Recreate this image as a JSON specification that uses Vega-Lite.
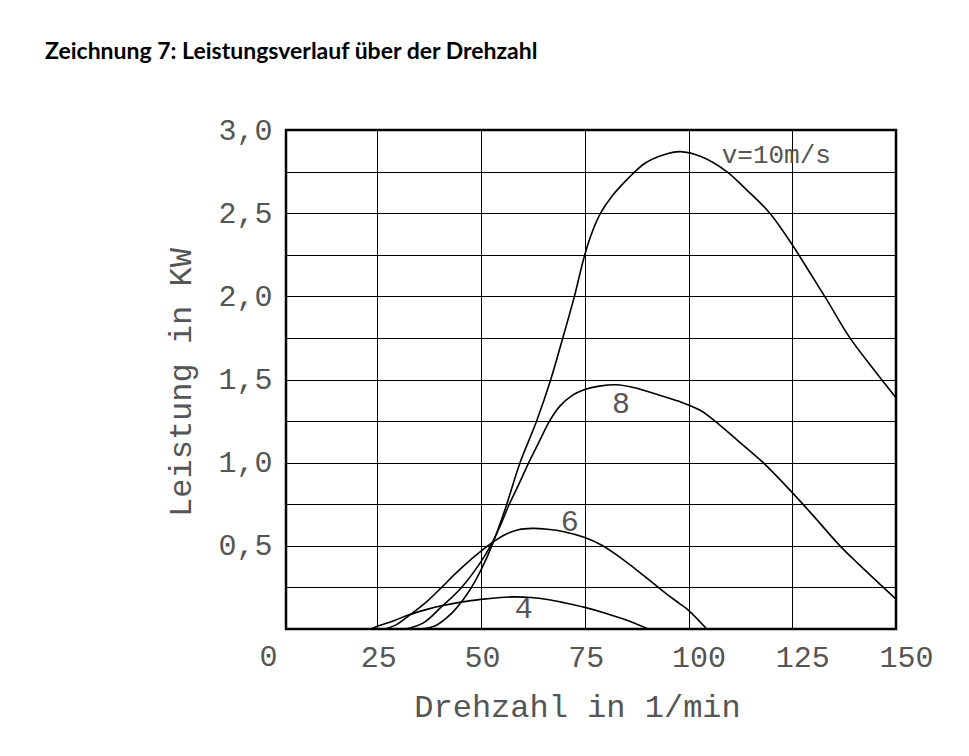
{
  "$schema": "https://vega.github.io/schema/vega-lite/v6.json",
  "width": 610,
  "height": 499,
  "autosize": "none",
  "padding": {"left": 286, "top": 130, "right": 73, "bottom": 127},
  "background": "white",
  "title": {
    "text": "Zeichnung 7: Leistungsverlauf über der Drehzahl",
    "anchor": "start",
    "frame": "group",
    "dx": -241,
    "offset": 33,
    "font": "Lato",
    "fontSize": 23,
    "fontWeight": "bold",
    "color": "black",
    "baseline": "alphabetic"
  },
  "datasets": {
    "curves": [
      {"v": "10", "rpm": 35.3, "kw": 0},
      {"v": "10", "rpm": 39, "kw": 0.02},
      {"v": "10", "rpm": 42.9, "kw": 0.094},
      {"v": "10", "rpm": 45.5, "kw": 0.17},
      {"v": "10", "rpm": 47.7, "kw": 0.25},
      {"v": "10", "rpm": 50, "kw": 0.355},
      {"v": "10", "rpm": 52.6, "kw": 0.5},
      {"v": "10", "rpm": 55.8, "kw": 0.72},
      {"v": "10", "rpm": 59.4, "kw": 1.0},
      {"v": "10", "rpm": 63.4, "kw": 1.25},
      {"v": "10", "rpm": 66.8, "kw": 1.5},
      {"v": "10", "rpm": 69.7, "kw": 1.75},
      {"v": "10", "rpm": 72.5, "kw": 2.0},
      {"v": "10", "rpm": 75, "kw": 2.25},
      {"v": "10", "rpm": 77, "kw": 2.4},
      {"v": "10", "rpm": 78.8, "kw": 2.5},
      {"v": "10", "rpm": 81.5, "kw": 2.6},
      {"v": "10", "rpm": 85.1, "kw": 2.7},
      {"v": "10", "rpm": 89.5, "kw": 2.8},
      {"v": "10", "rpm": 93.9, "kw": 2.85},
      {"v": "10", "rpm": 98, "kw": 2.87},
      {"v": "10", "rpm": 103, "kw": 2.84},
      {"v": "10", "rpm": 109.2, "kw": 2.75},
      {"v": "10", "rpm": 114, "kw": 2.64},
      {"v": "10", "rpm": 119.6, "kw": 2.5},
      {"v": "10", "rpm": 125, "kw": 2.31},
      {"v": "10", "rpm": 129.3, "kw": 2.14},
      {"v": "10", "rpm": 133.3, "kw": 1.98},
      {"v": "10", "rpm": 138.9, "kw": 1.75},
      {"v": "10", "rpm": 143.7, "kw": 1.59},
      {"v": "10", "rpm": 150, "kw": 1.39},
      {"v": "8", "rpm": 31.7, "kw": 0},
      {"v": "8", "rpm": 36, "kw": 0.035},
      {"v": "8", "rpm": 40.5, "kw": 0.134},
      {"v": "8", "rpm": 45.3, "kw": 0.25},
      {"v": "8", "rpm": 50, "kw": 0.405},
      {"v": "8", "rpm": 52.6, "kw": 0.515},
      {"v": "8", "rpm": 54.6, "kw": 0.62},
      {"v": "8", "rpm": 56.8, "kw": 0.75},
      {"v": "8", "rpm": 59.1, "kw": 0.87},
      {"v": "8", "rpm": 61.5, "kw": 1.0},
      {"v": "8", "rpm": 63.9, "kw": 1.12},
      {"v": "8", "rpm": 66.5, "kw": 1.25},
      {"v": "8", "rpm": 69, "kw": 1.34},
      {"v": "8", "rpm": 72, "kw": 1.405},
      {"v": "8", "rpm": 75, "kw": 1.44},
      {"v": "8", "rpm": 78.5, "kw": 1.46},
      {"v": "8", "rpm": 82.6, "kw": 1.468},
      {"v": "8", "rpm": 87, "kw": 1.45},
      {"v": "8", "rpm": 91.5, "kw": 1.417},
      {"v": "8", "rpm": 97.9, "kw": 1.367},
      {"v": "8", "rpm": 102.8, "kw": 1.315},
      {"v": "8", "rpm": 106, "kw": 1.257},
      {"v": "8", "rpm": 112, "kw": 1.13},
      {"v": "8", "rpm": 118, "kw": 1.0},
      {"v": "8", "rpm": 125, "kw": 0.82},
      {"v": "8", "rpm": 130.1, "kw": 0.68},
      {"v": "8", "rpm": 136.5, "kw": 0.5},
      {"v": "8", "rpm": 141, "kw": 0.39},
      {"v": "8", "rpm": 146.1, "kw": 0.27},
      {"v": "8", "rpm": 150, "kw": 0.18},
      {"v": "6", "rpm": 26.9, "kw": 0},
      {"v": "6", "rpm": 29.5, "kw": 0.025},
      {"v": "6", "rpm": 32.5, "kw": 0.078},
      {"v": "6", "rpm": 36.5, "kw": 0.155},
      {"v": "6", "rpm": 40.5, "kw": 0.25},
      {"v": "6", "rpm": 43.5, "kw": 0.325},
      {"v": "6", "rpm": 46.5, "kw": 0.395},
      {"v": "6", "rpm": 50, "kw": 0.468},
      {"v": "6", "rpm": 53, "kw": 0.525},
      {"v": "6", "rpm": 56, "kw": 0.57},
      {"v": "6", "rpm": 59, "kw": 0.597},
      {"v": "6", "rpm": 62.3, "kw": 0.605},
      {"v": "6", "rpm": 66, "kw": 0.6},
      {"v": "6", "rpm": 70, "kw": 0.585},
      {"v": "6", "rpm": 75, "kw": 0.55},
      {"v": "6", "rpm": 79, "kw": 0.505},
      {"v": "6", "rpm": 83, "kw": 0.44},
      {"v": "6", "rpm": 87, "kw": 0.365},
      {"v": "6", "rpm": 91, "kw": 0.285},
      {"v": "6", "rpm": 95, "kw": 0.205},
      {"v": "6", "rpm": 98, "kw": 0.15},
      {"v": "6", "rpm": 100, "kw": 0.112},
      {"v": "6", "rpm": 104.4, "kw": 0},
      {"v": "4", "rpm": 23.5, "kw": 0},
      {"v": "4", "rpm": 25, "kw": 0.016},
      {"v": "4", "rpm": 29, "kw": 0.05},
      {"v": "4", "rpm": 32.5, "kw": 0.084},
      {"v": "4", "rpm": 37, "kw": 0.118},
      {"v": "4", "rpm": 40.5, "kw": 0.14},
      {"v": "4", "rpm": 45.5, "kw": 0.163},
      {"v": "4", "rpm": 50, "kw": 0.178},
      {"v": "4", "rpm": 54, "kw": 0.188},
      {"v": "4", "rpm": 58, "kw": 0.193},
      {"v": "4", "rpm": 62, "kw": 0.189},
      {"v": "4", "rpm": 66, "kw": 0.177},
      {"v": "4", "rpm": 70, "kw": 0.158},
      {"v": "4", "rpm": 75, "kw": 0.13},
      {"v": "4", "rpm": 80, "kw": 0.095},
      {"v": "4", "rpm": 85, "kw": 0.054},
      {"v": "4", "rpm": 90.3, "kw": 0}
    ],
    "labels": [
      {"rpm": 108, "kw": 2.85, "label": "v=10m/s"},
      {"rpm": 83.7, "kw": 1.35, "label": "8"},
      {"rpm": 71.4, "kw": 0.645, "label": "6"},
      {"rpm": 60.3, "kw": 0.12, "label": "4"}
    ],
    "origin": [
      {"rpm": 0, "kw": 0, "label": "0"}
    ]
  },
  "encoding": {
    "x": {
      "field": "rpm",
      "type": "quantitative",
      "scale": {"domain": [3, 150], "nice": false, "zero": false},
      "axis": {
        "values": [25, 50, 75, 100, 125, 150],
        "format": "d",
        "title": "Drehzahl in 1/min",
        "grid": true,
        "domain": false,
        "ticks": false,
        "tickSize": 0,
        "labelAlign": "left",
        "labelOffset": -17,
        "labelBaseline": "alphabetic",
        "labelPadding": 37,
        "labelFlush": false,
        "labelOverlap": false,
        "titleX": 291,
        "titleY": 87,
        "titleAlign": "center",
        "titleBaseline": "alphabetic",
        "titleFontSize": 32
      }
    },
    "y": {
      "field": "kw",
      "type": "quantitative",
      "scale": {"domain": [0, 3], "nice": false},
      "axis": {
        "values": [0.25, 0.5, 0.75, 1, 1.25, 1.5, 1.75, 2, 2.25, 2.5, 2.75, 3],
        "labelExpr": "datum.value % 0.5 == 0 ? replace(format(datum.value, '.1f'), '.', ',') : ''",
        "title": "Leistung in KW",
        "grid": true,
        "domain": false,
        "ticks": false,
        "tickSize": 0,
        "labelPadding": 14,
        "labelBaseline": "middle",
        "labelFlush": false,
        "labelOverlap": false,
        "titleX": -96,
        "titleY": 252,
        "titleAngle": 270,
        "titleAlign": "center",
        "titleBaseline": "alphabetic",
        "titleFontSize": 32
      }
    }
  },
  "layer": [
    {
      "data": {"name": "curves"},
      "mark": {"type": "line", "interpolate": "catmull-rom", "color": "black", "strokeWidth": 1.6},
      "encoding": {"detail": {"field": "v", "type": "nominal"}}
    },
    {
      "data": {"name": "labels"},
      "transform": [{"filter": "datum.label == 'v=10m/s'"}],
      "mark": {"type": "text", "align": "left", "baseline": "middle", "font": "Liberation Mono", "fontSize": 26, "color": "#555"},
      "encoding": {"text": {"field": "label", "type": "nominal"}}
    },
    {
      "data": {"name": "labels"},
      "transform": [{"filter": "datum.label != 'v=10m/s'"}],
      "mark": {"type": "text", "align": "center", "baseline": "middle", "font": "Liberation Mono", "fontSize": 30, "color": "#555"},
      "encoding": {"text": {"field": "label", "type": "nominal"}}
    },
    {
      "data": {"name": "origin"},
      "mark": {"type": "text", "align": "left", "baseline": "alphabetic", "dx": -14, "dy": 37, "font": "Liberation Mono", "fontSize": 30, "color": "#555", "clip": false},
      "encoding": {"text": {"field": "label", "type": "nominal"}}
    }
  ],
  "config": {
    "view": {"stroke": "black", "strokeWidth": 2.5},
    "axis": {
      "gridColor": "black",
      "gridWidth": 1,
      "labelFont": "Liberation Mono",
      "labelFontSize": 30,
      "labelColor": "#555",
      "titleFont": "Liberation Mono",
      "titleFontSize": 30,
      "titleFontWeight": "normal",
      "titleColor": "#555"
    }
  }
}
